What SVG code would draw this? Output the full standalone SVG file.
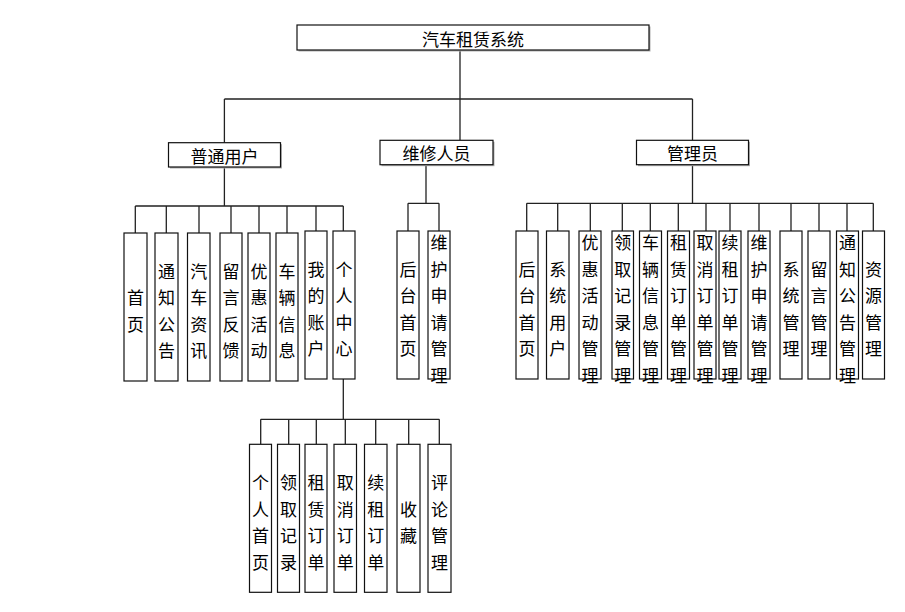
<svg xmlns="http://www.w3.org/2000/svg" width="905" height="612" viewBox="0 0 905 612">
<defs>
<style>
.bx{fill:#fff;stroke:#111;stroke-width:1.2}
.sh{fill:#b0b0b0}
.t{font-family:"Noto Sans CJK SC","Liberation Sans",sans-serif;font-size:17px;fill:#000;text-anchor:middle;dominant-baseline:central}
.ln{stroke:#222;stroke-width:1.3;fill:none}
</style>
</defs>
<rect width="905" height="612" fill="#fff"/>
<g id="connectors">
<path class="ln" d="M460,50V140.3M224.4,99H692.5M224.4,99V142.7M692.5,99V140.3"/>
<path class="ln" d="M224.4,167V206M135.3,206H343.3M135.3,206V233M166.3,206V233M199,206V233M231,206V233M259,206V233M287,206V233M316,206V231M343.3,206V231"/>
<path class="ln" d="M426,164.7V203.3M408,203.3H439M408,203.3V231M439,203.3V231"/>
<path class="ln" d="M692.5,164.7V203.3M526.7,203.3H873.3M526.7,203.3V231M557.7,203.3V231M590.3,203.3V231M622.3,203.3V231M650.3,203.3V231M678.3,203.3V231M706,203.3V231M730,203.3V231M759,203.3V231M791,203.3V231M819,203.3V231M847,203.3V231M873.3,203.3V231"/>
<path class="ln" d="M343.3,379V419.3M260.7,419.3H439.3M260.7,419.3V444.3M288.7,419.3V444.3M316.3,419.3V444.3M345.3,419.3V444.3M375.7,419.3V444.3M408.7,419.3V444.3M439.3,419.3V444.3"/>
</g>
<g id="root"><rect class="sh" x="298.5" y="26.5" width="352" height="25"/><rect class="bx" x="297" y="25" width="352" height="25"/><text class="t" x="473" y="38">汽车租赁系统</text></g>
<g id="user"><rect class="sh" x="170" y="144.2" width="112" height="24.3"/><rect class="bx" x="168.5" y="142.7" width="112" height="24.3"/><text class="t" x="224.5" y="155">普通用户</text></g>
<g id="repair"><rect class="sh" x="381.5" y="141.8" width="113" height="24.4"/><rect class="bx" x="380" y="140.3" width="113" height="24.4"/><text class="t" x="436.5" y="152.5">维修人员</text></g>
<g id="admin"><rect class="sh" x="638" y="141.8" width="112" height="24.4"/><rect class="bx" x="636.5" y="140.3" width="112" height="24.4"/><text class="t" x="692.5" y="152.5">管理员</text></g>

<g id="u1"><rect class="bx" x="124" y="233" width="23" height="148"/><text class="t"><tspan x="135.5" y="296">首</tspan><tspan x="135.5" y="322.5">页</tspan></text></g>
<g id="u2"><rect class="bx" x="155" y="233" width="23" height="148"/><text class="t"><tspan x="166.5" y="269.5">通</tspan><tspan x="166.5" y="296">知</tspan><tspan x="166.5" y="322.5">公</tspan><tspan x="166.5" y="349">告</tspan></text></g>
<g id="u3"><rect class="bx" x="187.5" y="233" width="22.5" height="148"/><text class="t"><tspan x="198.7" y="269.5">汽</tspan><tspan x="198.7" y="296">车</tspan><tspan x="198.7" y="322.5">资</tspan><tspan x="198.7" y="349">讯</tspan></text></g>
<g id="u4"><rect class="bx" x="220" y="233" width="22" height="148"/><text class="t"><tspan x="231" y="269.5">留</tspan><tspan x="231" y="296">言</tspan><tspan x="231" y="322.5">反</tspan><tspan x="231" y="349">馈</tspan></text></g>
<g id="u5"><rect class="bx" x="248" y="233" width="22" height="148"/><text class="t"><tspan x="259" y="269.5">优</tspan><tspan x="259" y="296">惠</tspan><tspan x="259" y="322.5">活</tspan><tspan x="259" y="349">动</tspan></text></g>
<g id="u6"><rect class="bx" x="276" y="233" width="22" height="148"/><text class="t"><tspan x="287" y="269.5">车</tspan><tspan x="287" y="296">辆</tspan><tspan x="287" y="322.5">信</tspan><tspan x="287" y="349">息</tspan></text></g>
<g id="u7"><rect class="bx" x="305" y="231" width="22" height="148"/><text class="t"><tspan x="316" y="267.5">我</tspan><tspan x="316" y="294">的</tspan><tspan x="316" y="320.5">账</tspan><tspan x="316" y="347">户</tspan></text></g>
<g id="u8"><rect class="bx" x="333" y="231" width="22" height="148"/><text class="t"><tspan x="344" y="267.5">个</tspan><tspan x="344" y="294">人</tspan><tspan x="344" y="320.5">中</tspan><tspan x="344" y="347">心</tspan></text></g>

<g id="r1"><rect class="bx" x="397" y="231" width="22" height="148"/><text class="t"><tspan x="408" y="267.5">后</tspan><tspan x="408" y="294">台</tspan><tspan x="408" y="320.5">首</tspan><tspan x="408" y="347">页</tspan></text></g>
<g id="r2"><rect class="bx" x="428" y="231" width="22" height="148"/><text class="t"><tspan x="439" y="241">维</tspan><tspan x="439" y="267.5">护</tspan><tspan x="439" y="294">申</tspan><tspan x="439" y="320.5">请</tspan><tspan x="439" y="347">管</tspan><tspan x="439" y="373.5">理</tspan></text></g>

<g id="a1"><rect class="bx" x="516" y="231" width="22" height="148"/><text class="t"><tspan x="527" y="267.5">后</tspan><tspan x="527" y="294">台</tspan><tspan x="527" y="320.5">首</tspan><tspan x="527" y="347">页</tspan></text></g>
<g id="a2"><rect class="bx" x="546.5" y="231" width="22.5" height="148"/><text class="t"><tspan x="557.7" y="267.5">系</tspan><tspan x="557.7" y="294">统</tspan><tspan x="557.7" y="320.5">用</tspan><tspan x="557.7" y="347">户</tspan></text></g>
<g id="a3"><rect class="bx" x="579" y="231" width="22" height="148"/><text class="t"><tspan x="590" y="241">优</tspan><tspan x="590" y="267.5">惠</tspan><tspan x="590" y="294">活</tspan><tspan x="590" y="320.5">动</tspan><tspan x="590" y="347">管</tspan><tspan x="590" y="373.5">理</tspan></text></g>
<g id="a4"><rect class="bx" x="612" y="231" width="21.5" height="148"/><text class="t"><tspan x="622.7" y="241">领</tspan><tspan x="622.7" y="267.5">取</tspan><tspan x="622.7" y="294">记</tspan><tspan x="622.7" y="320.5">录</tspan><tspan x="622.7" y="347">管</tspan><tspan x="622.7" y="373.5">理</tspan></text></g>
<g id="a5"><rect class="bx" x="639.5" y="231" width="22" height="148"/><text class="t"><tspan x="650.5" y="241">车</tspan><tspan x="650.5" y="267.5">辆</tspan><tspan x="650.5" y="294">信</tspan><tspan x="650.5" y="320.5">息</tspan><tspan x="650.5" y="347">管</tspan><tspan x="650.5" y="373.5">理</tspan></text></g>
<g id="a6"><rect class="bx" x="667.5" y="231" width="22" height="148"/><text class="t"><tspan x="678.5" y="241">租</tspan><tspan x="678.5" y="267.5">赁</tspan><tspan x="678.5" y="294">订</tspan><tspan x="678.5" y="320.5">单</tspan><tspan x="678.5" y="347">管</tspan><tspan x="678.5" y="373.5">理</tspan></text></g>
<g id="a7"><rect class="bx" x="694" y="231" width="22" height="148"/><text class="t"><tspan x="705" y="241">取</tspan><tspan x="705" y="267.5">消</tspan><tspan x="705" y="294">订</tspan><tspan x="705" y="320.5">单</tspan><tspan x="705" y="347">管</tspan><tspan x="705" y="373.5">理</tspan></text></g>
<g id="a8"><rect class="bx" x="719" y="231" width="22" height="148"/><text class="t"><tspan x="730" y="241">续</tspan><tspan x="730" y="267.5">租</tspan><tspan x="730" y="294">订</tspan><tspan x="730" y="320.5">单</tspan><tspan x="730" y="347">管</tspan><tspan x="730" y="373.5">理</tspan></text></g>
<g id="a9"><rect class="bx" x="748" y="231" width="22" height="148"/><text class="t"><tspan x="759" y="241">维</tspan><tspan x="759" y="267.5">护</tspan><tspan x="759" y="294">申</tspan><tspan x="759" y="320.5">请</tspan><tspan x="759" y="347">管</tspan><tspan x="759" y="373.5">理</tspan></text></g>
<g id="a10"><rect class="bx" x="780" y="231" width="22" height="148"/><text class="t"><tspan x="791" y="267.5">系</tspan><tspan x="791" y="294">统</tspan><tspan x="791" y="320.5">管</tspan><tspan x="791" y="347">理</tspan></text></g>
<g id="a11"><rect class="bx" x="808" y="231" width="22" height="148"/><text class="t"><tspan x="819" y="267.5">留</tspan><tspan x="819" y="294">言</tspan><tspan x="819" y="320.5">管</tspan><tspan x="819" y="347">理</tspan></text></g>
<g id="a12"><rect class="bx" x="836.5" y="231" width="22" height="148"/><text class="t"><tspan x="847.5" y="241">通</tspan><tspan x="847.5" y="267.5">知</tspan><tspan x="847.5" y="294">公</tspan><tspan x="847.5" y="320.5">告</tspan><tspan x="847.5" y="347">管</tspan><tspan x="847.5" y="373.5">理</tspan></text></g>
<g id="a13"><rect class="bx" x="862.5" y="231" width="22" height="148"/><text class="t"><tspan x="873.5" y="267.5">资</tspan><tspan x="873.5" y="294">源</tspan><tspan x="873.5" y="320.5">管</tspan><tspan x="873.5" y="347">理</tspan></text></g>

<g id="p1"><rect class="bx" x="249.5" y="444.3" width="22" height="148"/><text class="t"><tspan x="260.5" y="481">个</tspan><tspan x="260.5" y="507.5">人</tspan><tspan x="260.5" y="534">首</tspan><tspan x="260.5" y="560.5">页</tspan></text></g>
<g id="p2"><rect class="bx" x="277.5" y="444.3" width="22" height="148"/><text class="t"><tspan x="288.5" y="481">领</tspan><tspan x="288.5" y="507.5">取</tspan><tspan x="288.5" y="534">记</tspan><tspan x="288.5" y="560.5">录</tspan></text></g>
<g id="p3"><rect class="bx" x="305" y="444.3" width="22" height="148"/><text class="t"><tspan x="316" y="481">租</tspan><tspan x="316" y="507.5">赁</tspan><tspan x="316" y="534">订</tspan><tspan x="316" y="560.5">单</tspan></text></g>
<g id="p4"><rect class="bx" x="334" y="444.3" width="22.5" height="148"/><text class="t"><tspan x="345.2" y="481">取</tspan><tspan x="345.2" y="507.5">消</tspan><tspan x="345.2" y="534">订</tspan><tspan x="345.2" y="560.5">单</tspan></text></g>
<g id="p5"><rect class="bx" x="364.5" y="444.3" width="22.5" height="148"/><text class="t"><tspan x="375.7" y="481">续</tspan><tspan x="375.7" y="507.5">租</tspan><tspan x="375.7" y="534">订</tspan><tspan x="375.7" y="560.5">单</tspan></text></g>
<g id="p6"><rect class="bx" x="397" y="444.3" width="23" height="148"/><text class="t"><tspan x="408.5" y="507.5">收</tspan><tspan x="408.5" y="534">藏</tspan></text></g>
<g id="p7"><rect class="bx" x="428" y="444.3" width="23" height="148"/><text class="t"><tspan x="439.5" y="481">评</tspan><tspan x="439.5" y="507.5">论</tspan><tspan x="439.5" y="534">管</tspan><tspan x="439.5" y="560.5">理</tspan></text></g>
</svg>
